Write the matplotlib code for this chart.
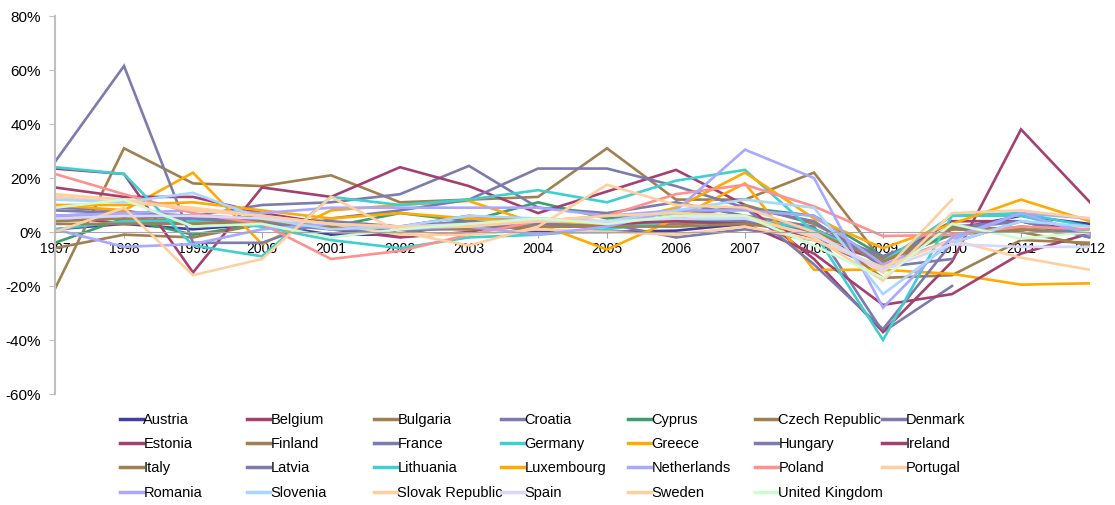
import matplotlib.pyplot as plt
import numpy as np
from matplotlib.lines import Line2D

nan = np.nan
years = list(range(1997, 2013))

countries = ["Austria", "Belgium", "Bulgaria", "Croatia", "Cyprus", "Czech Republic", "Denmark",
             "Estonia", "Finland", "France", "Germany", "Greece", "Hungary", "Ireland",
             "Italy", "Latvia", "Lithuania", "Luxembourg", "Netherlands", "Poland", "Portugal",
             "Romania", "Slovenia", "Slovak Republic", "Spain", "Sweden", "United Kingdom"]

# yearly change, in %
austria = [1, 3, 1, 3, -1, -1, 4, 0, 0, 0.5, 3, 1, -10, 1, 6, 3]
belgium = [6, 3, 4, 5, 1, -2, 0, 5, 3, 3, 4, -2, -11, 4, 4, 0]
bulgaria = [-21, 31, 18, 17, 21, 11, 12, 13, 31, 12, 12, 22, -11, -1, 1, -1]
croatia = [8, 7, 6, 10, 11, 14, 24.5, 9, 7, 11, 6, 2, -37, -20, nan, nan]
cyprus = [-4, 5, -1, 3, 2, 7, 4, 11, 5, 7, 9, 6, -9, -1, 2, 0]
czech = [-6, -1, -2, 3, 3, 2, 1, 2, 2, 3, 4, 1, -17, -16, -3, -4]
denmark = [9, 8, 4, 3, 1, 0, 2, 3, 3, -2, 1, -3, -14, 2, 4, -1]
estonia = [23.5, 21.5, -15, 16.5, 13, 24, 17, 7, 15, 23, 10, -10, -37, -11, 38, 11]
finland = [4, 5, 4, 6, 3, 1, 3, 3, 3, 5, 10, 3, -10, 2, 1, -1]
france = [5, 6, 5, 4, 2, 1, 2, 3, 2, 4, 4, 1, -9, 1, 4, -2]
germany = [1, 4, 4, 2, -3, -6, -2, -1, 1, 4, 5, 1, -11, 6, 6, 0]
greece = [10, 8, 22, -4.5, 8, 10, 11.5, 3, -6.5, 5, 18, -14, -14, -15.5, -19.5, -19]
hungary = [6, 7, 6, 5, 4, 2, 4, 3, 3, 6, 9, 4, -13, -10, nan, nan]
ireland = [16.5, 13, 13, 7, 3, 2, 6, 4, 3, 4, 3, -8, -27, -23, -8, -0.5]
italy = [3, 3, 3, 4, 2, 1, 1, 2, 2, 2, 3, 0, -11, 1, 0, -5]
latvia = [26, 61.5, -4, -4, 5, 8, 12, 23.5, 23.5, 17, 9, -12, -36, -4, 4, -2]
lithuania = [24, 21.5, -5, -9, 13, 10, 12, 15.5, 11, 19, 23, 0, -40, 6, 7, 2]
luxembourg = [10, 10, 11, 8, 5, 7, 5, 4, 3, 9, 22, 5, -6, 3, 12, 4]
netherlands = [6, 7, 8, 7, 9, 9, 9, 9, 6, 8, 8, 6, -12, -3, 7, 5]
poland = [21.5, 14, 7, 3, -10, -7, -1, 4, 6, 14, 17.5, 9.5, -1.5, -1, 2, 1]
portugal = [13, 11, 9, 6, 3, -1, -1, 1, 0, -1, 2, -3, -13, -3, -9.5, -14]
romania = [1, -5.5, -4.5, 1, 3, 1, 2, -1, 2, 8, 30.5, 20, -28, -2, 7, -1]
slovenia = [12, 11, 14.5, 5, 1, 2, 6, 5, 4, 8, 12, 9, -23, -4, 4, 2]
slovakia = [0, 9, -16, -10, 13, 0, -5, 2, 17.5, 10, 9, 0, -15, 12, nan, nan]
spain = [5, 6, 6, 5, 3, 2, 3, 4, 4, 5, 5, -1, -14, -4.5, -5.5, -5.5]
sweden = [14, 12, 8, 6, 3, 2, 2, 4, 6, 7, 6, -2, -18, 7, 8, 5]
uk = [9, 12, 2, 3, -2, 1, 3, 5, 3, 6, 6, -5, -17, 3, -2.5, 0]

series = [austria, belgium, bulgaria, croatia, cyprus, czech, denmark, estonia, finland,
          france, germany, greece, hungary, ireland, italy, latvia, lithuania, luxembourg,
          netherlands, poland, portugal, romania, slovenia, slovakia, spain, sweden, uk]

navy, plum, brown, slate = "#4040A0", "#A3406F", "#A08050", "#7B7BAE"
colors = [navy, plum, brown, slate, "#3A9E6E", brown, slate, plum, brown, slate,
          "#3ECFCF", "#FFAA00", slate, plum, brown, slate, "#3ECFCF", "#FFAA00",
          "#A8A8FF", "#FF9090", "#FFCFA0", "#A8A8FF", "#A8D6FF", "#FFCFA0", "#D8D8FF",
          "#FFCFA0", "#D0FAD0"]

plt.rcParams["font.family"] = ["Liberation Sans", "DejaVu Sans"]
fig = plt.figure(figsize=(11.15, 5.05), dpi=100)
ax = fig.add_axes([55 / 1115, 1 - 394 / 505, 1035 / 1115, 378 / 505])

for vals, c, name in zip(series, colors, countries):
    ax.plot(years, vals, color=c, lw=1.9, label=name, solid_joinstyle="miter")

ax.set_xlim(1997, 2012)
ax.set_ylim(-60, 80)
ax.set_yticks(range(-60, 81, 20))
ax.set_yticklabels([f"{v}%" for v in range(-60, 81, 20)], fontsize=11)
ax.set_xticks(years)
ax.set_xticklabels([str(y) for y in years], fontsize=10.5)

for s in ["top", "right"]:
    ax.spines[s].set_visible(False)
ax.spines["bottom"].set_position(("data", 0))
ax.spines["bottom"].set_color("#A6A6A6")
ax.spines["left"].set_color("#BFBFBF")
ax.spines["left"].set_linewidth(1.5)
ax.tick_params(axis="x", length=4, color="#A6A6A6", pad=3)
ax.tick_params(axis="y", length=4, color="#BFBFBF", pad=6)

# legend laid out as 7 equal columns, filled row by row
ncols = 7
handles = [Line2D([], [], color=c, lw=2.5) for c in colors]
for j in range(ncols):
    idx = list(range(j, len(countries), ncols))
    fig.legend([handles[i] for i in idx], [countries[i] for i in idx],
               loc="upper left", bbox_to_anchor=((120 + 127 * j) / 1115, 1 - 413 / 505),
               frameon=False, fontsize=10.5, handlelength=1.55, handletextpad=0.05,
               labelspacing=0.7, borderpad=0, borderaxespad=0)

fig.savefig("out.png", dpi=100)
